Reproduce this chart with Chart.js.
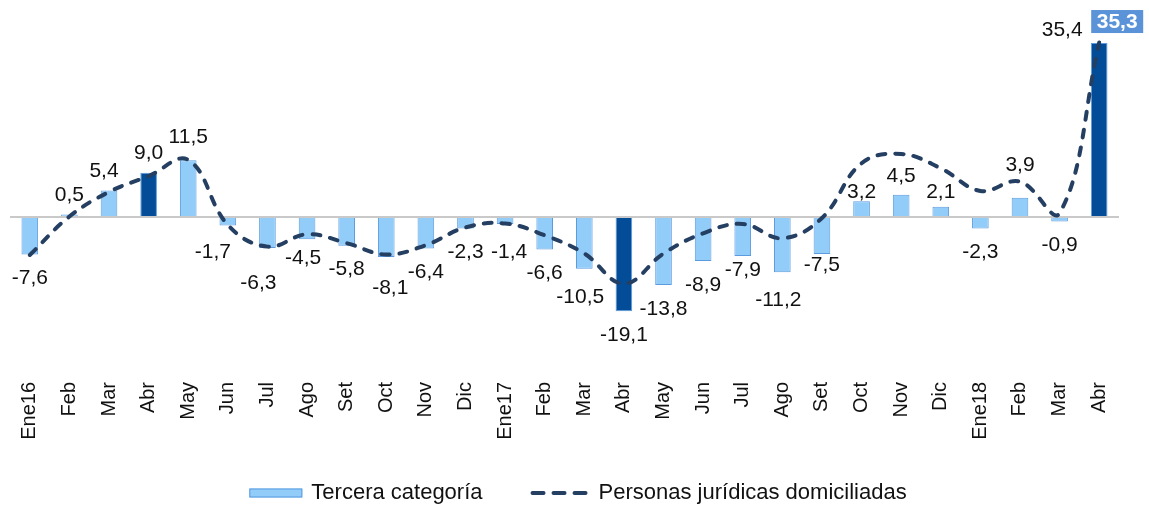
<!DOCTYPE html>
<html>
<head>
<meta charset="utf-8">
<script src="https://cdn.jsdelivr.net/npm/chart.js@4.4.1/dist/chart.umd.min.js"></script>
<style>
  html, body { margin: 0; padding: 0; background: #fff; }
  #wrap { width: 1149px; height: 506px; position: relative; }
</style>
</head>
<body>
<div id="wrap"><canvas id="chart"></canvas></div>
<script>
const categories = ['Ene16', 'Feb', 'Mar', 'Abr', 'May', 'Jun', 'Jul', 'Ago', 'Set', 'Oct', 'Nov', 'Dic',
  'Ene17', 'Feb', 'Mar', 'Abr', 'May', 'Jun', 'Jul', 'Ago', 'Set', 'Oct', 'Nov', 'Dic',
  'Ene18', 'Feb', 'Mar', 'Abr'];

// Tercera categoría (bars)
const terceraCategoria = [-7.6, 0.5, 5.4, 9.0, 11.5, -1.7, -6.3, -4.5, -5.8, -8.1, -6.4, -2.3,
  -1.4, -6.6, -10.5, -19.1, -13.8, -8.9, -7.9, -11.2, -7.5, 3.2, 4.5, 2.1,
  -2.3, 3.9, -0.9, 35.3];

// Personas jurídicas domiciliadas (dashed line)
const personasJuridicas = [-7.7, 0.1, 5.1, 8.3, 11.6, -1.6, -6.0, -3.5, -5.3, -7.6, -5.7, -2.1,
  -1.3, -3.7, -7.4, -13.5, -7.4, -3.3, -1.4, -4.3, -0.2, 10.9, 12.8, 9.9,
  5.3, 7.2, 0.8, 35.4];

const FONT = '"Liberation Sans", Arial, sans-serif';
const LIGHT = '#92CCF8';
const DARK = '#024C98';
const EDGE = '#5B9BE0';
const NAVY = '#243F61';

const fmt = v => v.toFixed(1).replace('.', ',');

// small hand nudges so labels sit where the original puts them
const labelNudge = {
  2: [-5, 0], 4: [0, -4], 5: [-15, 3], 6: [-9, 11], 7: [-4, -5], 9: [4, 7], 12: [4, 4],
  14: [-4, 4], 18: [0, -10], 19: [-4, 4], 20: [0, -13], 21: [0, 10], 23: [0, 5], 25: [0, -14]
};

const labelsPlugin = {
  id: 'labelsPlugin',
  afterDatasetsDraw(chart) {
    const ctx = chart.ctx;
    const bars = chart.getDatasetMeta(0).data;
    const pts = chart.getDatasetMeta(1).data;
    const last = bars.length - 1;
    ctx.save();
    ctx.textAlign = 'center';
    ctx.textBaseline = 'middle';
    ctx.font = '21px ' + FONT;
    ctx.fillStyle = '#111';
    bars.forEach((bar, i) => {
      const v = terceraCategoria[i];
      if (i === last) return;
      const [dx, dy] = labelNudge[i] || [0, 0];
      const y = v >= 0 ? bar.y - 19 : bar.y + 24;
      ctx.fillText(fmt(v), bar.x + dx, y + dy);
    });
    // last line point label
    const p = pts[last];
    ctx.fillText(fmt(personasJuridicas[last]), p.x - 37, p.y - 12);
    // highlighted last bar label
    const b = bars[last];
    ctx.fillStyle = '#5B93D9';
    ctx.fillRect(b.x - 8, b.y - 33, 52, 23);
    ctx.fillStyle = '#fff';
    ctx.font = 'bold 21px ' + FONT;
    ctx.fillText(fmt(terceraCategoria[last]), b.x + 18, b.y - 21);
    ctx.restore();
  },
  afterDraw(chart) {
    // legend drawn by hand: Excel style spacing
    const ctx = chart.ctx;
    ctx.save();
    ctx.font = '22px ' + FONT;
    ctx.textAlign = 'left';
    ctx.textBaseline = 'middle';
    const t1 = 'Tercera categoría';
    const t2 = 'Personas jurídicas domiciliadas';
    const w1 = ctx.measureText(t1).width;
    const w2 = ctx.measureText(t2).width;
    const total = 53 + 9 + w1 + 48 + 57 + 11 + w2;
    let x = 578 - total / 2;
    const y = 493;
    ctx.fillStyle = LIGHT;
    ctx.strokeStyle = EDGE;
    ctx.lineWidth = 1;
    ctx.fillRect(x, y - 4.5, 53, 9);
    ctx.strokeRect(x + 0.5, y - 4, 52, 8);
    x += 62;
    ctx.fillStyle = '#111';
    ctx.fillText(t1, x, y);
    x += w1 + 48;
    ctx.strokeStyle = NAVY;
    ctx.lineWidth = 4;
    ctx.lineCap = 'round';
    ctx.setLineDash([11, 10]);
    ctx.beginPath();
    ctx.moveTo(x + 2, y);
    ctx.lineTo(x + 55, y);
    ctx.stroke();
    ctx.setLineDash([]);
    x += 57 + 11;
    ctx.fillText(t2, x, y);
    ctx.restore();
  }
};

new Chart(document.getElementById('chart'), {
  type: 'bar',
  data: {
    labels: categories,
    datasets: [
      {
        label: 'Tercera categoría',
        data: terceraCategoria,
        backgroundColor: categories.map(c => c === 'Abr' ? DARK : LIGHT),
        borderColor: EDGE,
        borderWidth: 1,
        barPercentage: 0.42,
        categoryPercentage: 1,
        order: 2
      },
      {
        type: 'line',
        label: 'Personas jurídicas domiciliadas',
        data: personasJuridicas,
        borderColor: NAVY,
        borderWidth: 4,
        borderDash: [8, 10],
        borderCapStyle: 'round',
        tension: 0.4,
        pointRadius: 0,
        fill: false,
        order: 1
      }
    ]
  },
  options: {
    responsive: true,
    maintainAspectRatio: false,
    animation: false,
    layout: { padding: { top: 10, left: 10, right: 30, bottom: 0 } },
    plugins: {
      legend: { display: false },
      tooltip: { enabled: false }
    },
    scales: {
      x: {
        grid: { display: false, drawTicks: false },
        border: { display: false },
        ticks: {
          autoSkip: false,
          minRotation: 90,
          maxRotation: 90,
          padding: 22,
          color: '#111',
          font: { family: FONT, size: 20 }
        },
        afterFit: s => { s.height = 146; }
      },
      y: {
        min: -29,
        max: 42,
        border: { display: false },
        ticks: { display: false },
        grid: { color: '#C9C9C9', lineWidth: 2, drawTicks: false },
        afterBuildTicks: s => { s.ticks = [{ value: 0 }]; },
        afterFit: s => { s.width = 0; }
      }
    }
  },
  plugins: [labelsPlugin]
});
</script>
</body>
</html>
